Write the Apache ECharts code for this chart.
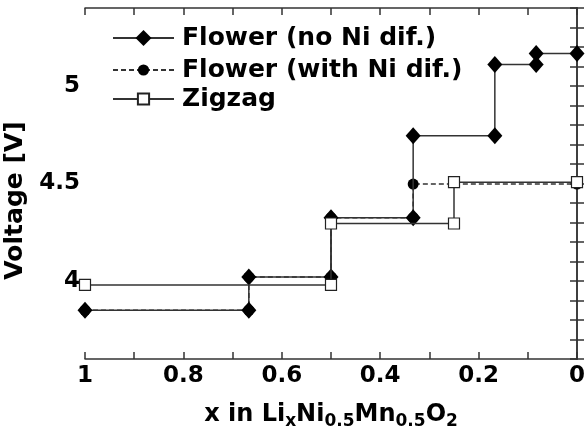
<!DOCTYPE html>
<html>
<head>
<meta charset="utf-8">
<script src="https://cdn.jsdelivr.net/npm/echarts@6/dist/echarts.min.js"></script>
<style>
  html, body { margin: 0; padding: 0; background: #fff; }
  #chart { width: 585px; height: 439px; }
</style>
</head>
<body>
<div id="chart"></div>
<script>
// 数据 (x in LixNi0.5Mn0.5O2, 电压 V)
const xFlower = [1, 0.667, 0.667, 0.5, 0.5, 0.333, 0.333, 0.167, 0.167, 0.083, 0.083, 0];
const vFlower = [3.85, 3.85, 4.02, 4.02, 4.325, 4.325, 4.745, 4.745, 5.11, 5.11, 5.167, 5.167];
const xNiDif = [1, 0.667, 0.667, 0.5, 0.5, 0.333, 0.333, 0];
const vNiDif = [3.85, 3.85, 4.02, 4.02, 4.325, 4.325, 4.497, 4.497];
const xZigzag = [1, 0.5, 0.5, 0.25, 0.25, 0];
const vZigzag = [3.98, 3.98, 4.295, 4.295, 4.507, 4.507];
const seriesNames = ['Flower (no Ni dif.)', 'Flower (with Ni dif.)', 'Zigzag'];

const FONT = 'DejaVu Sans';
const pairs = (xs, ys) => xs.map((x, i) => [x, ys[i]]);

const chart = echarts.init(document.getElementById('chart'));

const axisLine = { show: true, lineStyle: { color: '#333', width: 1.5 } };
const tick = { show: true, inside: true, length: 7, lineStyle: { color: '#333', width: 1.5 } };

// 图例: 每项一个, 以便各自的标记大小
const legendBase = (name, top, h) => ({
  data: [name],
  orient: 'vertical',
  left: 112,
  top: top,
  padding: 0,
  itemWidth: 61,
  itemHeight: h,
  textStyle: { fontFamily: FONT, fontWeight: 'bold', fontSize: 25, lineHeight: 28, color: '#000', padding: [0, 0, 0, 3] },
});

const option = {
  animation: false,
  grid: { left: 85, right: 8, top: 8, bottom: 80, containLabel: false, outerBoundsMode: 'none' },
  legend: [
    legendBase(seriesNames[0], 24, 20),
    legendBase(seriesNames[1], 56, 14),
    legendBase(seriesNames[2], 85, 14),
  ],
  xAxis: [
    {
      type: 'value', min: 0, max: 1, interval: 0.1, inverse: true,
      axisLine: axisLine, axisTick: tick, splitLine: { show: false },
      axisLabel: {
        margin: 6, color: '#000', fontFamily: FONT, fontWeight: 'bold', fontSize: 23,
        formatter: v => { const k = Math.round(v * 10); return k % 2 === 0 ? String(k / 10) : ''; }
      },
      name: '{m|x in Li}{s|x}{m|Ni}{s|0.5}{m|Mn}{s|0.5}{m|O}{s|2}',
      nameLocation: 'middle',
      nameGap: 41,
      nameTextStyle: {
        rich: {
          m: { fontFamily: FONT, fontWeight: 'bold', fontSize: 24, lineHeight: 30, color: '#000' },
          s: { fontFamily: FONT, fontWeight: 'bold', fontSize: 17, lineHeight: 17, color: '#000', verticalAlign: 'bottom' }
        }
      }
    },
    {
      type: 'value', min: 0, max: 1, interval: 0.1, inverse: true, position: 'top',
      axisLine: axisLine, axisTick: tick, splitLine: { show: false }, axisLabel: { show: false }
    }
  ],
  yAxis: [
    {
      type: 'value', min: 3.6, max: 5.4, interval: 0.1,
      axisLine: axisLine, axisTick: tick, splitLine: { show: false },
      axisLabel: {
        margin: 5, color: '#000', fontFamily: FONT, fontWeight: 'bold', fontSize: 23,
        formatter: v => { const k = Math.round(v * 10); return k % 5 === 0 ? String(k / 10) : ''; }
      },
      name: 'Voltage [V]',
      nameLocation: 'middle',
      nameRotate: 90,
      nameGap: 46,
      nameTextStyle: { fontFamily: FONT, fontWeight: 'bold', fontSize: 25, color: '#000', padding: [0, 34, 0, 0] }
    },
    {
      type: 'value', min: 3.6, max: 5.4, interval: 0.1, position: 'right',
      axisLine: axisLine, axisTick: tick, splitLine: { show: false }, axisLabel: { show: false }
    }
  ],
  series: [
    {
      name: seriesNames[1], type: 'line', z: 2,
      data: pairs(xNiDif, vNiDif),
      symbol: 'circle', symbolSize: 11,
      itemStyle: { color: '#000' },
      lineStyle: { color: '#333', width: 1.5, type: [5, 3] }
    },
    {
      name: seriesNames[0], type: 'line', z: 3,
      data: pairs(xFlower, vFlower),
      symbol: 'diamond', symbolSize: [15, 17],
      itemStyle: { color: '#000' },
      lineStyle: { color: '#333', width: 1.5 }
    },
    {
      name: seriesNames[2], type: 'line', z: 4,
      data: pairs(xZigzag, vZigzag),
      symbol: 'rect', symbolSize: 11,
      itemStyle: { color: '#fff', borderColor: '#222', borderWidth: 1.2 },
      lineStyle: { color: '#333', width: 1.5 }
    }
  ]
};

chart.setOption(option);
</script>
</body>
</html>
